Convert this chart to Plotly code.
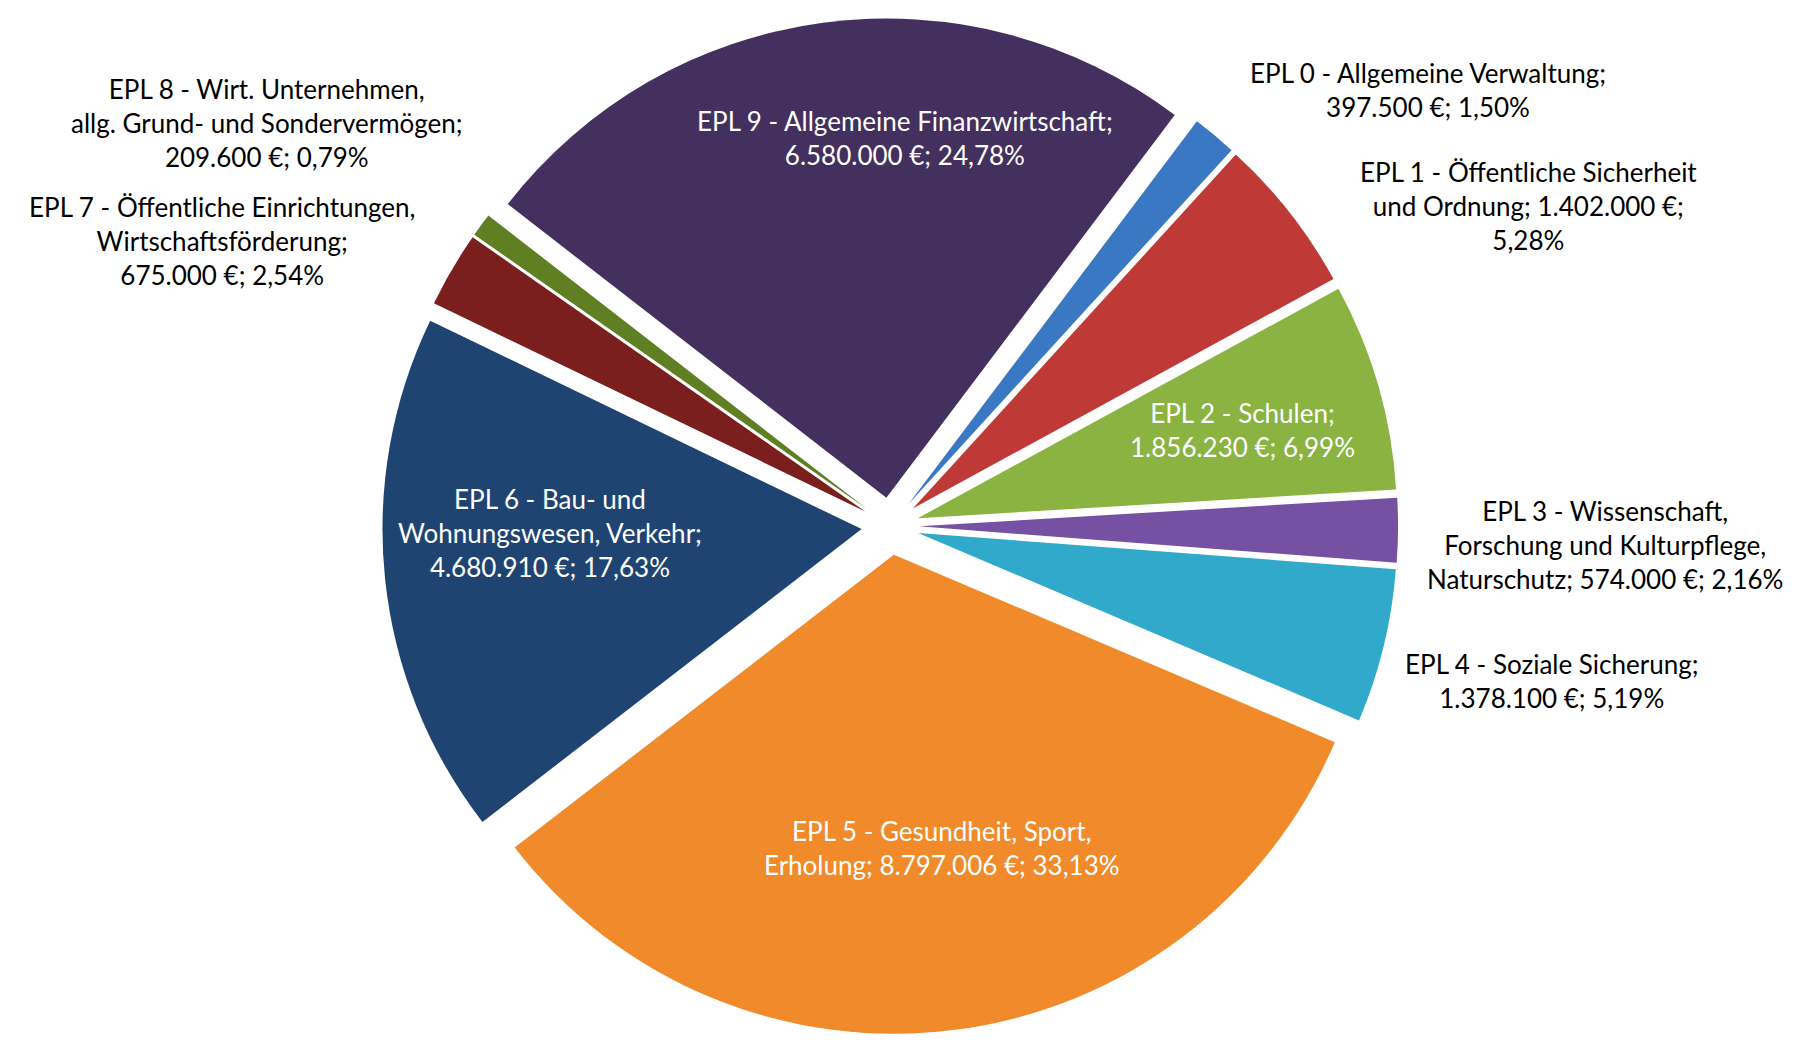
import plotly.graph_objects as go

# Einzelpläne (EPL) – Zuschussbedarf in Euro
categories = ["EPL 0", "EPL 1", "EPL 2", "EPL 3", "EPL 4",
              "EPL 5", "EPL 6", "EPL 7", "EPL 8", "EPL 9"]
values = [397500, 1402000, 1856230, 574000, 1378100,
          8797006, 4680910, 675000, 209600, 6580000]
label_fmt = [
    "EPL 0 - Allgemeine Verwaltung;<br>{v} €; {p}%",
    "EPL 1 - Öffentliche Sicherheit<br>und Ordnung; {v} €;<br>{p}%",
    "EPL 2 - Schulen;<br>{v} €; {p}%",
    "EPL 3 - Wissenschaft,<br>Forschung und Kulturpflege,<br>Naturschutz; {v} €; {p}%",
    "EPL 4 - Soziale Sicherung;<br>{v} €; {p}%",
    "EPL 5 - Gesundheit, Sport,<br>Erholung; {v} €; {p}%",
    "EPL 6 - Bau- und<br>Wohnungswesen, Verkehr;<br>{v} €; {p}%",
    "EPL 7 - Öffentliche Einrichtungen,<br>Wirtschaftsförderung;<br>{v} €; {p}%",
    "EPL 8 - Wirt. Unternehmen,<br>allg. Grund- und Sondervermögen;<br>{v} €; {p}%",
    "EPL 9 - Allgemeine Finanzwirtschaft;<br>{v} €; {p}%",
]

colors = ["#3b78c4", "#bf3a37", "#8ab342", "#7650a3", "#30a9ca",
          "#f08a2a", "#1f4472", "#7b1e1e", "#5f7f22", "#43305e"]
inside = [False, False, True, False, False, True, True, False, False, True]

# label centres in pixels (full 1812x1042 canvas)
label_pos = [(1433, 83), (1534, 201), (1245, 429), (1611, 545), (1558, 684),
             (942, 853), (547, 533), (216, 237), (261, 117), (905, 132)]

W, H = 1812, 1042
total = sum(values)


def de_num(v):
    return f"{v:,}".replace(",", ".")


def de_pct(v):
    return f"{v:.2f}".replace(".", ",")


fig = go.Figure()
fig.add_trace(go.Pie(
    labels=categories,
    values=values,
    sort=False,
    direction="clockwise",
    rotation=37,
    pull=0.06,
    marker=dict(colors=colors, line=dict(width=0)),
    textinfo="none",
    hoverinfo="skip",
    showlegend=False,
    domain=dict(x=[0.2037, 0.7787], y=[0.0, 0.99]),
))

for fmt, v, pos, ins in zip(label_fmt, values, label_pos, inside):
    fig.add_annotation(
        x=pos[0] / W, y=1 - pos[1] / H, xref="paper", yref="paper",
        xanchor="center", yanchor="middle",
        text=fmt.format(v=de_num(v), p=de_pct(100 * v / total)),
        showarrow=False, align="center",
        font=dict(family="Lato", size=26, color="white" if ins else "black"),
    )

fig.update_layout(
    margin=dict(l=0, r=0, t=0, b=0),
    paper_bgcolor="white",
    plot_bgcolor="white",
)
fig.write_html("out.html")
